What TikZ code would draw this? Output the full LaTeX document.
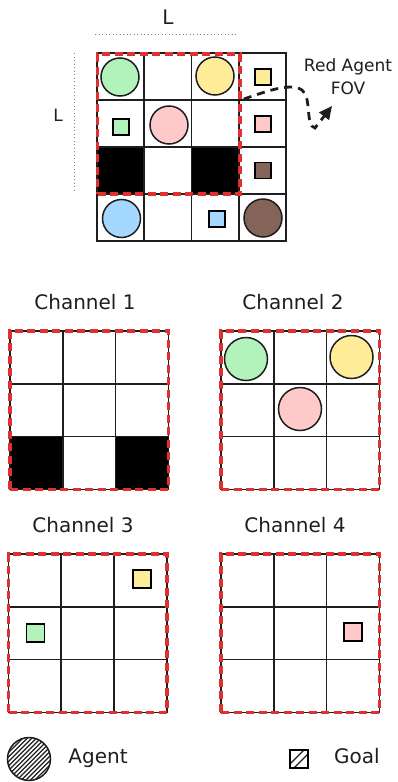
\documentclass[tikz,border=0pt]{standalone}
\usepackage{fontspec}
\setmainfont{DejaVu Sans}
\usetikzlibrary{arrows.meta}
\definecolor{ink}{HTML}{1E1E1E}
\definecolor{agreen}{HTML}{B2F2BB}
\definecolor{ayellow}{HTML}{FFEC99}
\definecolor{apink}{HTML}{FFC9C9}
\definecolor{ablue}{HTML}{A5D8FF}
\definecolor{abrown}{HTML}{846358}
\definecolor{fovred}{HTML}{E03131}
\tikzset{
 cellline/.style={draw=ink, line width=1.7pt},
 fovbox/.style={draw=fovred, line width=3.6pt, dash pattern=on 8pt off 4.5pt, rectangle, inner sep=0pt},
 agent/.style={circle, draw=ink, line width=1.5pt, inner sep=0pt, minimum size=#1},
 goal/.style={rectangle, draw=black, line width=1.6pt, inner sep=0pt, minimum size=#1},
 lbl/.style={text=ink, font=\fontsize{20}{24}\selectfont, inner sep=0pt, anchor=base},
 smalllbl/.style={text=ink, font=\fontsize{17}{23}\selectfont, inner sep=0pt, align=center},
 dimline/.style={draw=gray, line width=0.8pt, dash pattern=on 1pt off 2.5pt},
 hatchline/.style={draw=ink, line width=1.1pt},
 fovarrow/.style={draw=ink, line width=2.8pt, dash pattern=on 8pt off 6pt, -{Triangle[length=13pt,width=12pt]}}
}
\begin{document}
\begin{tikzpicture}[x=1pt,y=-1pt]
\useasboundingbox (0,0) rectangle (398,782);
% ---------- main grid ----------
\fill[black] (97,147) rectangle ++(47.3,47);
\fill[black] (191.6,147) rectangle ++(47.3,47);
\foreach \i in {0,...,3}
  \foreach \j in {0,...,3}
    \draw[cellline] ({97+47.3*\i},{53+47*\j}) rectangle ++(47.3,47);
\node[agent=38pt, fill=agreen] (mgA) at (120,77) {};
\node[agent=38pt, fill=ayellow] (myA) at (215,76) {};
\node[agent=38pt, fill=apink] (mpA) at (169,125) {};
\node[agent=38pt, fill=ablue] (mbA) at (121.5,218.5) {};
\node[agent=38pt, fill=abrown] (mbrA) at (263,218) {};
\node[goal=16pt, fill=ayellow] (myG) at (263,77) {};
\node[goal=16pt, fill=agreen] (mgG) at (120.7,127) {};
\node[goal=16pt, fill=apink] (mpG) at (263,124) {};
\node[goal=16pt, fill=abrown] (mbrG) at (263,170.5) {};
\node[goal=16pt, fill=ablue] (mbG) at (217,219) {};
\node[fovbox, minimum width=142.5pt, minimum height=140pt] (fov) at (168.75,124) {};
% dimension marks
\draw[dimline] (95,34) -- (237,34);
\draw[dimline] (74,53) -- (74,190);
\node[lbl] (Ltop) at (168,24) {L};
\node[lbl, font=\fontsize{17}{20}\selectfont] (Lleft) at (58,121) {L};
% FOV label and arrow
\node[smalllbl] (fovlabel) at (348,77) {Red Agent\\FOV};
\coordinate (fovtip) at (332,106);
\draw[fovarrow] ([xshift=2pt,yshift=25pt]fov.east) .. controls (265,92) and (290,82) .. (302,90)
   .. controls (312,98) and (305,126) .. (315,128) -- (fovtip);
% ---------- channel grids ----------
\def\cs{52.8}
% Channel 1
\node[lbl] (ch1) at (85,309) {Channel 1};
\fill[black] (10,{331+2*\cs}) rectangle ++(\cs,\cs);
\fill[black] ({10+2*\cs},{331+2*\cs}) rectangle ++(\cs,\cs);
\foreach \i in {0,1,2}
  \foreach \j in {0,1,2}
    \draw[cellline] ({10+\cs*\i},{331+\cs*\j}) rectangle ++(\cs,\cs);
\node[fovbox, minimum size=158.4pt] (fov1) at ({10+1.5*\cs},{331+1.5*\cs}) {};
% Channel 2
\node[lbl] (ch2) at (293,309) {Channel 2};
\foreach \i in {0,1,2}
  \foreach \j in {0,1,2}
    \draw[cellline] ({221+\cs*\i},{331+\cs*\j}) rectangle ++(\cs,\cs);
\node[agent=43pt, fill=agreen] (c2g) at (246,359) {};
\node[agent=43pt, fill=ayellow] (c2y) at (351.5,357) {};
\node[agent=43pt, fill=apink] (c2p) at (300,409) {};
\node[fovbox, minimum size=158.4pt] (fov2) at ({221+1.5*\cs},{331+1.5*\cs}) {};
% Channel 3
\node[lbl] (ch3) at (83,532) {Channel 3};
\foreach \i in {0,1,2}
  \foreach \j in {0,1,2}
    \draw[cellline] ({8.5+\cs*\i},{554+\cs*\j}) rectangle ++(\cs,\cs);
\node[goal=18pt, fill=ayellow] (c3y) at (141.7,579) {};
\node[goal=18pt, fill=agreen] (c3g) at (35.3,633) {};
\node[fovbox, minimum size=158.4pt] (fov3) at ({8.5+1.5*\cs},{554+1.5*\cs}) {};
% Channel 4
\node[lbl] (ch4) at (295,532) {Channel 4};
\foreach \i in {0,1,2}
  \foreach \j in {0,1,2}
    \draw[cellline] ({221+\cs*\i},{554+\cs*\j}) rectangle ++(\cs,\cs);
\node[goal=18pt, fill=apink] (c4p) at (352.7,632) {};
\node[fovbox, minimum size=158.4pt] (fov4) at ({221+1.5*\cs},{554+1.5*\cs}) {};
% ---------- legend ----------
\begin{scope}
  \clip (29,759) circle (21.5);
  \foreach \k in {-72,-67.5,...,72}
    \draw[hatchline] ({29+\k-30},{759+30}) -- ({29+\k+30},{759-30});
\end{scope}
\node[agent=43pt] (legA) at (29,759) {};
\node[lbl] (legAt) at (98,763) {Agent};
\begin{scope}
  \clip (290,750) rectangle (308,768);
  \foreach \k in {-4,4}
    \draw[hatchline] ({299+\k-12},{759+12}) -- ({299+\k+12},{759-12});
\end{scope}
\node[goal=18pt] (legG) at (299,759) {};
\node[lbl] (legGt) at (357,763) {Goal};
\end{tikzpicture}
\end{document}
